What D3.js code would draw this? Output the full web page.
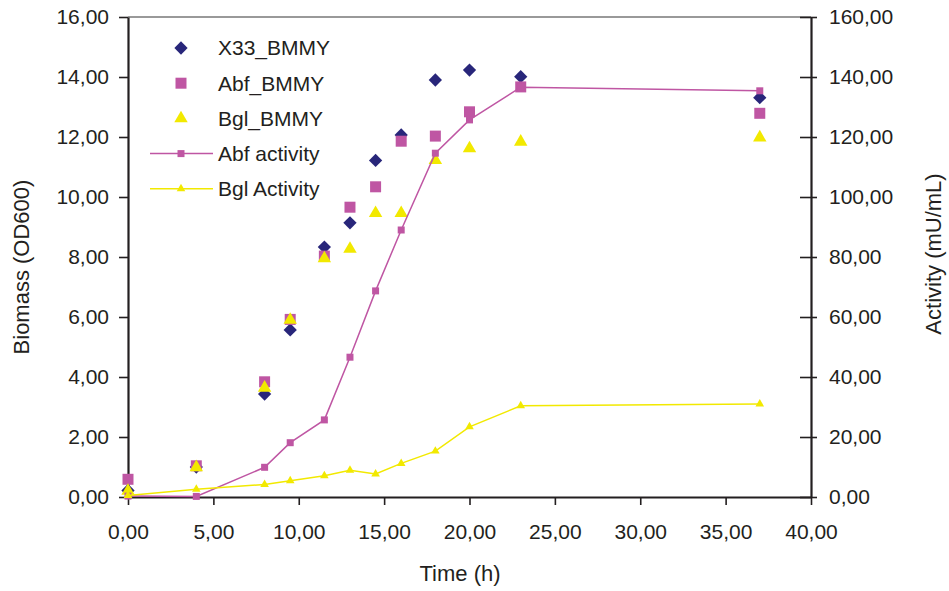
<!DOCTYPE html>
<html>
<head>
<meta charset="utf-8">
<script src="https://cdn.jsdelivr.net/npm/d3@7"></script>
<style>
  body { margin: 0; background: #fff; }
  svg { font-family: "Liberation Sans", Arial, sans-serif; }
  .axis path, .axis line { stroke: #231f20; }
  .axis text { fill: #231f20; font-size: 21px; }
</style>
</head>
<body>
<div id="chart"></div>
<script>
var time = [0, 4, 8, 9.5, 11.5, 13, 14.5, 16, 18, 20, 23, 37];

// biomass OD600 (left axis)
var x33Bmmy = [0.22, 1.0, 3.43, 5.57, 8.33, 9.14, 11.22, 12.07, 13.9, 14.23, 14.01, 13.31];
var abfBmmy = [0.59, 1.04, 3.84, 5.92, 8.03, 9.66, 10.34, 11.86, 12.03, 12.84, 13.67, 12.79];
var bglBmmy = [0.2, 0.99, 3.64, 5.9, 7.95, 8.27, 9.46, 9.46, 11.23, 11.62, 11.84, 11.98];

// activity mU/mL (right axis)
var abfActivity = [0.3, 0.2, 9.9, 18.1, 25.7, 46.6, 68.7, 89.0, 114.6, 125.7, 136.6, 135.4];
var bglActivity = [0.5, 2.6, 4.2, 5.4, 7.1, 8.9, 7.7, 11.2, 15.3, 23.4, 30.4, 31.0];

var xTicks = [0, 5, 10, 15, 20, 25, 30, 35, 40];
var yLeftTicks = [0, 2, 4, 6, 8, 10, 12, 14, 16];
var yRightTicks = [0, 20, 40, 60, 80, 100, 120, 140, 160];

var widthSvg = 949,
    heightSvg = 591;

var svg = d3.select("#chart").append("svg")
    .attr("width", widthSvg)
    .attr("height", heightSvg);

var margin = { top: 17, right: 138, bottom: 94, left: 128 },
    width = widthSvg - margin.left - margin.right,
    height = heightSvg - margin.top - margin.bottom;

var g = svg.append("g")
    .attr("transform", "translate(" + margin.left + "," + margin.top + ")");

var xScale = d3.scaleLinear().domain([0, 40]).range([0, width]);
var yLeft = d3.scaleLinear().domain([0, 16]).range([height, 0]);
var yRight = d3.scaleLinear().domain([0, 160]).range([height, 0]);

var fmt = function (d) { return d3.format(".2f")(d).replace(".", ","); };

var navy = "#28267a", magenta = "#bf56a3", yellow = "#f2e900";

// top frame line
g.append("line")
    .attr("x1", 0).attr("x2", width)
    .attr("y1", 0).attr("y2", 0)
    .attr("stroke", "#777")
    .attr("stroke-width", 1.5);

// axes
var xAxis = g.append("g")
    .attr("class", "axis")
    .attr("transform", "translate(0," + height + ")")
    .call(d3.axisBottom(xScale).tickValues(xTicks).tickFormat(fmt)
        .tickSizeInner(8).tickSizeOuter(0).tickPadding(19));

var leftAxis = g.append("g")
    .attr("class", "axis")
    .call(d3.axisLeft(yLeft).tickValues(yLeftTicks).tickFormat(fmt)
        .tickSizeInner(9).tickSizeOuter(0).tickPadding(10));

var rightAxis = g.append("g")
    .attr("class", "axis")
    .attr("transform", "translate(" + width + ",0)")
    .call(d3.axisRight(yRight).tickValues(yRightTicks).tickFormat(fmt)
        .tickSizeInner(6).tickSizeOuter(0).tickPadding(12));
rightAxis.selectAll(".tick line").attr("x1", -11);

[xAxis, leftAxis, rightAxis].forEach(function (a) {
    a.select(".domain").attr("stroke-width", 2.2);
    a.selectAll(".tick line").attr("stroke-width", 1.6);
    a.selectAll("text").attr("font-size", 21);
});

// axis titles
svg.append("text")
    .attr("transform", "translate(29,267) rotate(-90)")
    .attr("text-anchor", "middle")
    .attr("font-size", 22)
    .attr("fill", "#231f20")
    .text("Biomass (OD600)");

svg.append("text")
    .attr("transform", "translate(941,254) rotate(-90)")
    .attr("text-anchor", "middle")
    .attr("font-size", 22)
    .attr("fill", "#231f20")
    .text("Activity (mU/mL)");

svg.append("text")
    .attr("x", 460)
    .attr("y", 581)
    .attr("text-anchor", "middle")
    .attr("font-size", 22)
    .attr("fill", "#231f20")
    .text("Time (h)");

// symbols
var diamond = d3.symbol().type(d3.symbolSquare).size(88);
var square = d3.symbol().type(d3.symbolSquare).size(121);
var triangle = d3.symbol().type(d3.symbolTriangle).size(78);
var smallSquare = d3.symbol().type(d3.symbolSquare).size(49);
var smallTriangle = d3.symbol().type(d3.symbolTriangle).size(32);

function scatter(values, sym, color, rot) {
    g.append("g").selectAll("path")
        .data(values)
        .enter().append("path")
        .attr("d", sym)
        .attr("fill", color)
        .attr("transform", function (d, i) {
            return "translate(" + xScale(time[i]) + "," + yLeft(d) + ")" + (rot ? " rotate(45)" : "");
        });
}

scatter(x33Bmmy, diamond, navy, true);
scatter(abfBmmy, square, magenta, false);
scatter(bglBmmy, triangle, yellow, false);

function activityLine(values, sym, color) {
    var line = d3.line()
        .x(function (d, i) { return xScale(time[i]); })
        .y(function (d) { return yRight(d); });
    g.append("path")
        .datum(values)
        .attr("fill", "none")
        .attr("stroke", color)
        .attr("stroke-width", 1.5)
        .attr("d", line);
    g.append("g").selectAll("path")
        .data(values)
        .enter().append("path")
        .attr("d", sym)
        .attr("fill", color)
        .attr("transform", function (d, i) {
            return "translate(" + xScale(time[i]) + "," + yRight(d) + ")";
        });
}

activityLine(abfActivity, smallSquare, magenta);
activityLine(bglActivity, smallTriangle, yellow);

// legend
var legendItems = [
    { name: "X33_BMMY", sym: diamond, color: navy, rot: true, line: false },
    { name: "Abf_BMMY", sym: square, color: magenta, rot: false, line: false },
    { name: "Bgl_BMMY", sym: triangle, color: yellow, rot: false, line: false },
    { name: "Abf activity", sym: smallSquare, color: magenta, rot: false, line: true },
    { name: "Bgl Activity", sym: smallTriangle, color: yellow, rot: false, line: true }
];

var legend = svg.append("g")
    .selectAll("g")
    .data(legendItems)
    .enter().append("g")
    .attr("transform", function (d, i) { return "translate(0," + (48 + i * 35.2) + ")"; });

legend.filter(function (d) { return d.line; })
    .append("line")
    .attr("x1", 150).attr("x2", 213)
    .attr("stroke", function (d) { return d.color; })
    .attr("stroke-width", 1.5);

legend.append("path")
    .attr("d", function (d) { return d.sym(); })
    .attr("fill", function (d) { return d.color; })
    .attr("transform", function (d) { return "translate(181,0)" + (d.rot ? " rotate(45)" : ""); });

legend.append("text")
    .attr("x", 218)
    .attr("dy", "0.35em")
    .attr("font-size", 21)
    .attr("fill", "#231f20")
    .text(function (d) { return d.name; });
</script>
</body>
</html>
